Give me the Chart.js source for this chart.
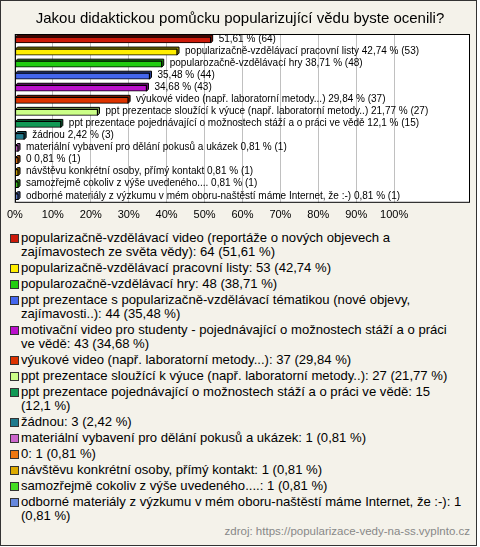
<!DOCTYPE html>
<html>
<head>
<meta charset="utf-8">
<script src="https://cdn.jsdelivr.net/npm/chart.js@4/dist/chart.umd.min.js"></script>
<style>
    html, body {
        margin: 0;
        padding: 0;
        background: #ffffff;
    }
    #frame {
        position: relative;
        width: 477px;
        height: 546px;
        box-sizing: border-box;
        border: 1px solid #333333;
        background: #f4f2ea;
        font-family: "Liberation Sans", Arial, sans-serif;
    }
    #chart {
        display: block;
    }
    #legend {
        margin: 2px 0 0 8px;
        width: 453px;
        font-size: 13.1px;
        line-height: 14px;
        color: #000;
    }
    .item {
        display: flex;
        align-items: flex-start;
        margin-bottom: 2px;
    }
    .box {
        flex: none;
        width: 7px;
        height: 7px;
        border: 1px solid #333;
        margin: 3px 2px 0 1px;
    }
    #source {
        position: absolute;
        right: 6px;
        bottom: 8px;
        font-size: 11.5px;
        color: #888888;
    }
</style>
</head>
<body>
<div id="frame">
    <canvas id="chart" width="475" height="228"></canvas>
    <div id="legend"></div>
    <div id="source">zdroj: https://popularizace-vedy-na-ss.vyplnto.cz</div>
</div>
<script>
const categories = [
    'popularizačně-vzdělávací video (reportáže o nových objevech a zajímavostech ze světa vědy)',
    'popularizačně-vzdělávací pracovní listy',
    'popularozačně-vzdělávací hry',
    'ppt prezentace s popularizačně-vzdělávací tématikou (nové objevy, zajímavosti..)',
    'motivační video pro studenty - pojednávající o možnostech stáží a o práci ve vědě',
    'výukové video (např. laboratorní metody...)',
    'ppt prezentace sloužící k výuce (např. laboratorní metody..)',
    'ppt prezentace pojednávající o možnostech stáží a o práci ve vědě',
    'žádnou',
    'materiální vybavení pro dělání pokusů a ukázek',
    '0',
    'návštěvu konkrétní osoby, přímý kontakt',
    'samozřejmě cokoliv z výše uvedeného....',
    'odborné materiály z výzkumu v mém oboru-naštěstí máme Internet, že :-)',
];

// names shown next to the bars ('' = only the numbers)
const barNames = [
    '',
    'popularizačně-vzdělávací pracovní listy',
    'popularozačně-vzdělávací hry',
    '',
    '',
    'výukové video (např. laboratorní metody...)',
    'ppt prezentace sloužící k výuce (např. laboratorní metody..)',
    'ppt prezentace pojednávající o možnostech stáží a o práci ve vědě',
    'žádnou',
    'materiální vybavení pro dělání pokusů a ukázek',
    '0',
    'návštěvu konkrétní osoby, přímý kontakt',
    'samozřejmě cokoliv z výše uvedeného....',
    'odborné materiály z výzkumu v mém oboru-naštěstí máme Internet, že :-)',
];

const counts = [64, 53, 48, 44, 43, 37, 27, 15, 3, 1, 1, 1, 1, 1];
const percents = [51.61, 42.74, 38.71, 35.48, 34.68, 29.84, 21.77, 12.1, 2.42, 0.81, 0.81, 0.81, 0.81, 0.81];
const xTicks = [0, 10, 20, 30, 40, 50, 60, 70, 80, 90, 100];

const colors = [
    '#cc1a0a', '#ffee00', '#22cc11', '#4466ee', '#bb11cc', '#dd3300', '#ccff88',
    '#119955', '#1f7a8c', '#cc66cc', '#ee7711', '#ddaa00', '#44dd22', '#6688dd',
];
const depthColors = [
    '#7a0f06', '#998e00', '#147a0a', '#283d8f', '#700a7a', '#851f00', '#7a9952',
    '#0a5c33', '#124954', '#7a3d7a', '#8f470a', '#856600', '#298514', '#3d5285',
];

function formatPercent(v) {
    return String(v).replace('.', ',');
}

const plotFrame = {
    id: 'plotFrame',
    beforeDraw(chart) {
        const { ctx, chartArea: a } = chart;
        ctx.save();
        ctx.fillStyle = '#ffffff';
        ctx.fillRect(a.left, a.top, a.right - a.left, a.bottom - a.top);
        ctx.restore();
    },
    afterDraw(chart) {
        const { ctx, chartArea: a } = chart;
        ctx.save();
        ctx.strokeStyle = '#000000';
        ctx.lineWidth = 1;
        ctx.strokeRect(a.left + 0.5, a.top + 0.5, a.right - a.left - 1, a.bottom - a.top - 1);
        ctx.restore();
    },
};

// extrusion behind each bar plus the value labels
const bars3d = {
    id: 'bars3d',
    beforeDatasetsDraw(chart) {
        const { ctx } = chart;
        const d = 2;
        chart.getDatasetMeta(0).data.forEach((bar, i) => {
            const top = bar.y - bar.height / 2;
            const bottom = bar.y + bar.height / 2;
            ctx.save();
            ctx.fillStyle = depthColors[i];
            ctx.strokeStyle = '#000';
            ctx.lineWidth = 1;
            ctx.beginPath();
            ctx.moveTo(bar.base, top);
            ctx.lineTo(bar.base + d, top - d);
            ctx.lineTo(bar.x + d, top - d);
            ctx.lineTo(bar.x + d, bottom - d);
            ctx.lineTo(bar.x, bottom);
            ctx.lineTo(bar.x, top);
            ctx.closePath();
            ctx.fill();
            ctx.stroke();
            ctx.restore();
        });
    },
    afterDatasetsDraw(chart) {
        const { ctx } = chart;
        ctx.save();
        ctx.font = '10px "Liberation Sans", Arial, sans-serif';
        ctx.fillStyle = '#000';
        ctx.textBaseline = 'middle';
        chart.getDatasetMeta(0).data.forEach((bar, i) => {
            const name = barNames[i] ? barNames[i] + ' ' : '';
            const text = `${name}${formatPercent(percents[i])} % (${counts[i]})`;
            ctx.fillText(text, bar.x + 8, bar.y - 1);
        });
        ctx.restore();
    },
};

new Chart(document.getElementById('chart'), {
    type: 'bar',
    data: {
        labels: categories,
        datasets: [
            {
                data: percents,
                backgroundColor: colors,
                borderColor: '#000',
                borderWidth: 1,
                borderSkipped: false,
                barThickness: 6,
            },
        ],
    },
    options: {
        indexAxis: 'y',
        responsive: false,
        animation: false,
        layout: {
            padding: { left: 9, right: 6, top: 0, bottom: 1 },
        },
        plugins: {
            legend: { display: false },
            tooltip: { enabled: false },
            title: {
                display: true,
                text: 'Jakou didaktickou pomůcku popularizující vědu byste ocenili?',
                color: '#000',
                font: { family: '"Liberation Sans", Arial, sans-serif', size: 15, weight: 'normal' },
                padding: { top: 9, bottom: 6 },
            },
        },
        scales: {
            x: {
                min: 0,
                max: 120,
                afterBuildTicks(axis) {
                    axis.ticks = xTicks.map(v => ({ value: v }));
                },
                grid: {
                    color: '#c0c0c0',
                    drawTicks: false,
                },
                border: { display: false },
                ticks: {
                    padding: 6,
                    color: '#000',
                    font: { family: '"Liberation Sans", Arial, sans-serif', size: 11 },
                    callback: v => `${v}%`,
                },
            },
            y: {
                display: false,
            },
        },
    },
    plugins: [plotFrame, bars3d],
});

const legend = document.getElementById('legend');
categories.forEach((name, i) => {
    const item = document.createElement('div');
    item.className = 'item';
    const box = document.createElement('span');
    box.className = 'box';
    box.style.background = colors[i];
    const text = document.createElement('span');
    // keep "(xx %)" together, as in the original
    text.textContent = `${name}: ${counts[i]} (${formatPercent(percents[i])}\u00a0%)`;
    item.appendChild(box);
    item.appendChild(text);
    legend.appendChild(item);
});
</script>
</body>
</html>
